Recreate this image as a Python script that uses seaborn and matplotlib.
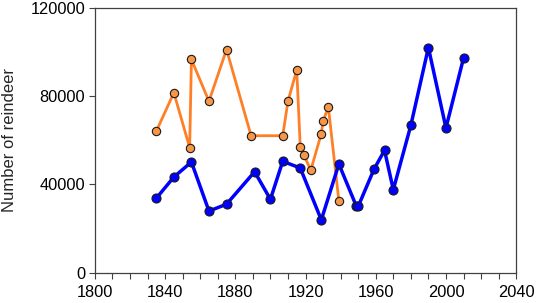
import pandas as pd
import seaborn as sns
import matplotlib.pyplot as plt
from matplotlib.ticker import MultipleLocator

# orange series (historical counts)
orange_years = [1835, 1845, 1854, 1855, 1865, 1875, 1889, 1907, 1910, 1915, 1917, 1919, 1923, 1929, 1930, 1933, 1939]
orange_counts = [64000, 81500, 56600, 96500, 77600, 101000, 62000, 62000, 77600, 91800, 57000, 53400, 46400, 63000, 68600, 75000, 32500]

# blue series
blue_years = [1835, 1845, 1855, 1865, 1875, 1891, 1900, 1907, 1917, 1929, 1939, 1949, 1950, 1959, 1965, 1970, 1980, 1990, 2000, 2010]
blue_counts = [33700, 43300, 50100, 27900, 31000, 45700, 33200, 50400, 47400, 23900, 49200, 30000, 30000, 46800, 55400, 37600, 66700, 101900, 65500, 97100]

sns.set_style("ticks")
plt.rcParams['font.family'] = ['Liberation Sans', 'DejaVu Sans']

fig = plt.figure(figsize=(5.36, 3.03), dpi=100)
ax = fig.add_axes([0.177, 0.100, 0.786, 0.875])

orange = pd.DataFrame({'year': orange_years, 'count': orange_counts})
blue = pd.DataFrame({'year': blue_years, 'count': blue_counts})

sns.lineplot(data=orange, x='year', y='count', ax=ax, color='#FF7F27', linewidth=2,
             marker='o', markersize=6, markerfacecolor='#F79646', markeredgecolor='#1a1a1a',
             markeredgewidth=0.8, estimator=None, sort=False)
sns.lineplot(data=blue, x='year', y='count', ax=ax, color='#0000FF', linewidth=2.5,
             marker='o', markersize=6.5, markerfacecolor='#0000FF', markeredgecolor='#1a1a1a',
             markeredgewidth=0.8, estimator=None, sort=False)

ax.set_xlim(1800, 2040)
ax.set_ylim(0, 120000)
ax.xaxis.set_major_locator(MultipleLocator(40))
ax.xaxis.set_minor_locator(MultipleLocator(10))
ax.yaxis.set_major_locator(MultipleLocator(40000))
ax.tick_params(axis='both', which='both', direction='out', length=4, width=0.8, colors='#404040', labelcolor='black', labelsize=11.8)
ax.tick_params(axis='x', pad=5)
ax.tick_params(axis='y', pad=3)
for s in ax.spines.values():
    s.set_visible(True)
    s.set_color('#404040')
    s.set_linewidth(0.9)

ax.set_xlabel('')
ax.set_ylabel('Number of reindeer', fontsize=12, labelpad=10)

plt.savefig('out.png', dpi=100)
